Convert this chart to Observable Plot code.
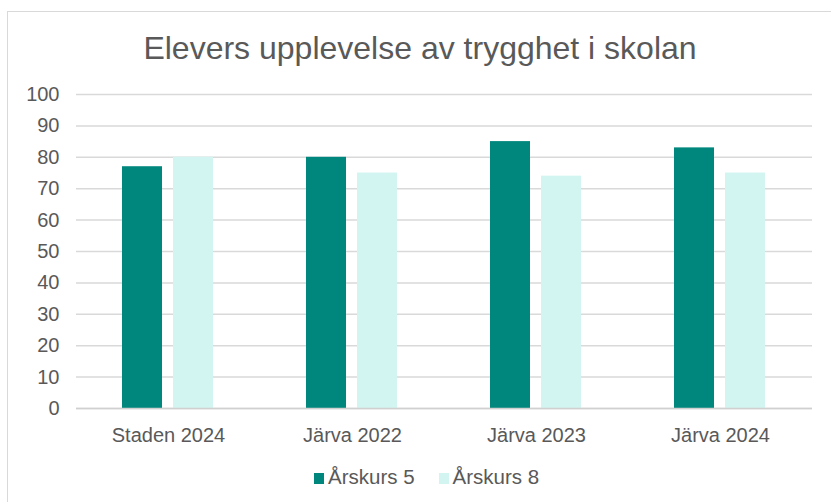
<!DOCTYPE html>
<html>
<head>
<meta charset="utf-8">
<script src="https://cdn.jsdelivr.net/npm/d3@7"></script>
<script src="https://cdn.jsdelivr.net/npm/@observablehq/plot@0.6"></script>
<style>
  html, body { margin: 0; padding: 0; background: #fff; overflow: hidden; }
  #wrap { position: relative; width: 831px; height: 502px; font-family: "Liberation Sans", Arial, sans-serif; color: #595959; }
  #border { position: absolute; left: 7px; top: 11px; width: 900px; height: 700px; border: 1.5px solid #d9d9d9; box-sizing: border-box; }
  #title { position: absolute; left: 0; top: 32px; width: 840px; text-align: center; font-size: 32px; line-height: 32px; white-space: nowrap; }
  #legend { position: absolute; left: 314px; top: 467px; font-size: 20.5px; line-height: 20px; display: flex; align-items: center; white-space: nowrap; }
  #legend .item { display: flex; align-items: center; margin-right: 24px; }
  #legend .sw { width: 10px; height: 11px; margin-right: 4px; margin-top: 3px; }
  #chart { position: absolute; left: 0; top: 0; }
</style>
</head>
<body>
<div id="wrap">
  <div id="border"></div>
  <div id="chart"></div>
  <div id="title">Elevers upplevelse av trygghet i skolan</div>
  <div id="legend"></div>
</div>
<script>
const categories = ["Staden 2024", "Järva 2022", "Järva 2023", "Järva 2024"];
const series = ["Årskurs 5", "Årskurs 8"];
const arskurs5 = [77, 80, 85, 83];
const arskurs8 = [80, 75, 74, 75];
const yTicks = [0, 10, 20, 30, 40, 50, 60, 70, 80, 90, 100];
const colors = ["#00877D", "#D3F5F2"];

const data = [];
categories.forEach((c, i) => {
  data.push({category: c, series: series[0], value: arskurs5[i]});
  data.push({category: c, series: series[1], value: arskurs8[i]});
});

const chart = Plot.plot({
  width: 831,
  height: 502,
  marginTop: 94,
  marginBottom: 94,
  marginLeft: 75,
  marginRight: 19,
  style: {fontFamily: "'Liberation Sans', Arial, sans-serif", fontSize: "20px", color: "#595959", background: "transparent", overflow: "visible"},
  fx: {domain: categories, padding: 0, label: null},
  x: {domain: series, axis: null, paddingInner: 0.2115, paddingOuter: 0.875},
  y: {domain: [0, 100], label: null},
  color: {domain: series, range: colors},
  marks: [
    Plot.gridY(yTicks, {stroke: "#d9d9d9", strokeOpacity: 1, strokeWidth: 1.5}),
    Plot.barY(data, {fx: "category", x: "series", y: "value", fill: "series"}),
    Plot.ruleY([0], {stroke: "#d0d0d0", strokeWidth: 1.5}),
    Plot.axisY(yTicks, {tickSize: 0, tickPadding: 17, label: null, fill: "#595959"}),
    Plot.axisFx({anchor: "bottom", tickSize: 0, tickPadding: 19, label: null, fill: "#595959"})
  ]
});
document.getElementById("chart").appendChild(chart);

const legend = document.getElementById("legend");
series.forEach((s, i) => {
  const item = document.createElement("div");
  item.className = "item";
  const sw = document.createElement("div");
  sw.className = "sw";
  sw.style.background = colors[i];
  const t = document.createElement("span");
  t.textContent = s;
  item.appendChild(sw);
  item.appendChild(t);
  legend.appendChild(item);
});
</script>
</body>
</html>
